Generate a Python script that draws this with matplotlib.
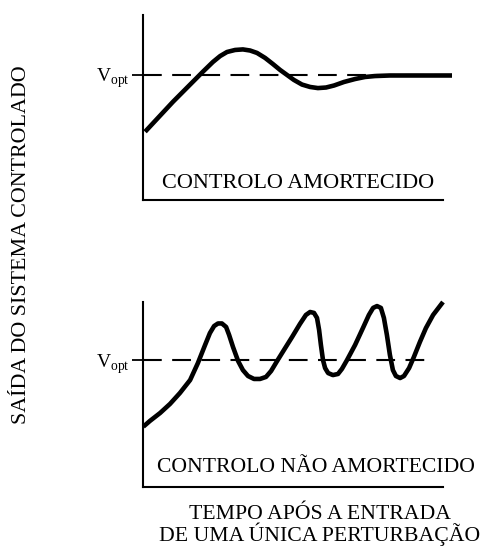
import matplotlib
matplotlib.use('Agg')
import matplotlib.pyplot as plt

plt.rcParams['font.family'] = ['Liberation Serif', 'DejaVu Serif']
plt.rcParams['mathtext.fontset'] = 'custom'
plt.rcParams['mathtext.rm'] = 'Liberation Serif'

# valores (tempo 0-100, saida 0-100)
v_opt_damped = 67.8
t_damped = [0.7, 10.0, 20.0, 23.3, 25.7, 28.0, 30.7, 33.3, 35.7, 38.0, 40.7,
            43.3, 45.7, 48.0, 50.3, 53.0, 55.7, 58.3, 61.0, 63.7, 67.0, 70.7,
            74.0, 77.3, 82.3, 103.0]
y_damped = [36.9, 53.1, 69.4, 74.6, 77.8, 80.0, 81.1, 81.4, 80.8, 79.5, 76.8,
            73.5, 70.3, 67.6, 64.9, 62.4, 61.1, 60.5, 60.8, 61.9, 63.8, 65.4,
            66.5, 67.0, 67.3, 67.3]

v_opt_undamped = 68.6
t_undamped = [0.1, 2.3, 5.7, 9.0, 12.3, 15.7, 18.3, 20.7, 22.3, 23.7, 25.0,
              26.3, 27.7, 28.7, 30.0, 31.7, 33.3, 35.0, 37.0, 39.0, 41.0, 42.7,
              44.7, 47.0, 49.7, 52.3, 54.3, 55.7, 57.0, 58.0, 58.7, 59.3, 60.0,
              60.7, 61.7, 63.3, 65.0, 66.3, 68.0, 70.7, 73.3, 75.3, 76.7, 78.0,
              79.3, 80.3, 81.3, 82.3, 83.3, 84.3, 85.7, 87.0, 88.7, 90.3, 92.3,
              94.3, 96.7, 100.0]
y_undamped = [32.6, 35.7, 40.0, 44.9, 50.8, 57.8, 67.0, 76.8, 83.2, 87.0, 88.4,
              88.4, 86.5, 82.2, 75.7, 68.1, 63.2, 60.0, 58.4, 58.4, 59.5, 62.7,
              68.1, 74.1, 81.1, 88.1, 93.0, 94.6, 94.1, 91.4, 84.9, 76.8, 68.6,
              64.3, 61.6, 60.5, 61.1, 63.8, 68.6, 76.8, 85.9, 93.0, 96.8, 97.8,
              96.8, 91.4, 82.2, 71.4, 63.2, 60.0, 58.9, 60.0, 64.3, 70.3, 78.4,
              85.9, 93.0, 100.0]

label_damped = "CONTROLO AMORTECIDO"
label_undamped = "CONTROLO NÃO AMORTECIDO"
ylabel = "SAÍDA DO SISTEMA CONTROLADO"
xlabel_1 = "TEMPO APÓS A ENTRADA"
xlabel_2 = "DE UMA ÚNICA PERTURBAÇÃO"

fig = plt.figure(figsize=(4.86, 5.46), dpi=100)
ax1 = fig.add_axes([143/486, (546-200)/546, 300/486, 185/546])
ax2 = fig.add_axes([143/486, (546-487)/546, 300/486, 185/546])


def style_axes(ax, vopt, dash_end):
    ax.set_xlim(0, 100)
    ax.set_ylim(0, 100)
    for s in ['top', 'right']:
        ax.spines[s].set_visible(False)
    for s in ['left', 'bottom']:
        ax.spines[s].set_linewidth(1.5)
    ax.set_xticks([])
    ax.set_yticks([vopt])
    ax.set_yticklabels([r'V$_{\rm opt}$'])
    ax.tick_params(axis='y', direction='out', length=8, width=1.3, pad=1.5,
                   labelsize=14)
    ax.plot([0, dash_end], [vopt, vopt], color='black', lw=1.5,
            dashes=(9, 5), clip_on=False)
    ax.set_facecolor('none')


style_axes(ax1, v_opt_damped, 103)
ax1.plot(t_damped, y_damped, color='black', lw=3.3, solid_joinstyle='round',
         solid_capstyle='butt', clip_on=False)
ax1.text(51.7, 6.5, label_damped, ha='center', va='baseline', fontsize=16)

style_axes(ax2, v_opt_undamped, 95.7)
ax2.plot(t_undamped, y_undamped, color='black', lw=3.3,
         solid_joinstyle='round', solid_capstyle='butt', clip_on=False)
ax2.text(57.5, 8.1, label_undamped, ha='center', va='baseline',
         fontsize=15.6)

fig.text(320/486, 1 - 519/546, xlabel_1, ha='center', va='baseline',
         fontsize=15.7)
fig.text(320/486, 1 - 541/546, xlabel_2, ha='center', va='baseline',
         fontsize=15.7)
fig.text(22/486, 1 - 245/546, ylabel, rotation=90, ha='center', va='center',
         fontsize=15.8)

fig.savefig('out.png', dpi=100)
